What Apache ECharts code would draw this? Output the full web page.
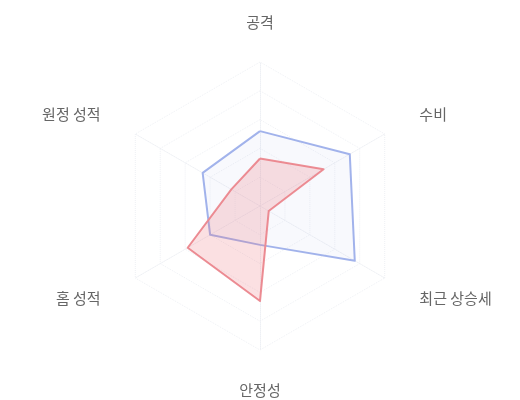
<!DOCTYPE html>
<html>
<head>
<meta charset="utf-8">
<script src="https://cdn.jsdelivr.net/npm/echarts@6/dist/echarts.min.js"></script>
<style>
  html, body { margin: 0; padding: 0; background: #fff; }
  #chart { width: 520px; height: 400px; }
</style>
</head>
<body>
<div id="chart"></div>
<script>
// 축 이름 (ECharts 레이더는 위에서 반시계방향으로 그림)
var indicators = ['공격', '원정 성적', '홈 성적', '안정성', '최근 상승세', '수비'];
var maxValue = 100;
var blueValues = [52, 46, 40, 27, 76, 72];
var redValues = [33, 23, 58, 66, 7, 51];

var myChart = echarts.init(document.getElementById('chart'));
myChart.setOption({
  animation: false,
  radar: {
    center: [260, 206],
    radius: 144,
    startAngle: 90,
    splitNumber: 5,
    indicator: indicators.map(function (n) { return { name: n, max: maxValue }; }),
    axisName: {
      color: '#666',
      fontSize: 15,
      verticalAlign: 'middle',
      fontFamily: '"Noto Sans CJK KR", sans-serif'
    },
    nameGap: 40,
    axisLine: { lineStyle: { color: '#eef0f4', type: 'dotted' } },
    splitLine: { lineStyle: { color: '#eef0f4', type: 'dotted', width: 1 } },
    splitArea: { show: false }
  },
  series: [{
    type: 'radar',
    symbol: 'none',
    data: [{
      value: blueValues,
      lineStyle: { color: '#a3b4ec', width: 2 },
      areaStyle: { color: 'rgba(120, 145, 225, 0.08)' }
    }, {
      value: redValues,
      lineStyle: { color: '#ec8f96', width: 2 },
      areaStyle: { color: 'rgba(236, 110, 120, 0.3)' }
    }]
  }]
});
</script>
</body>
</html>
